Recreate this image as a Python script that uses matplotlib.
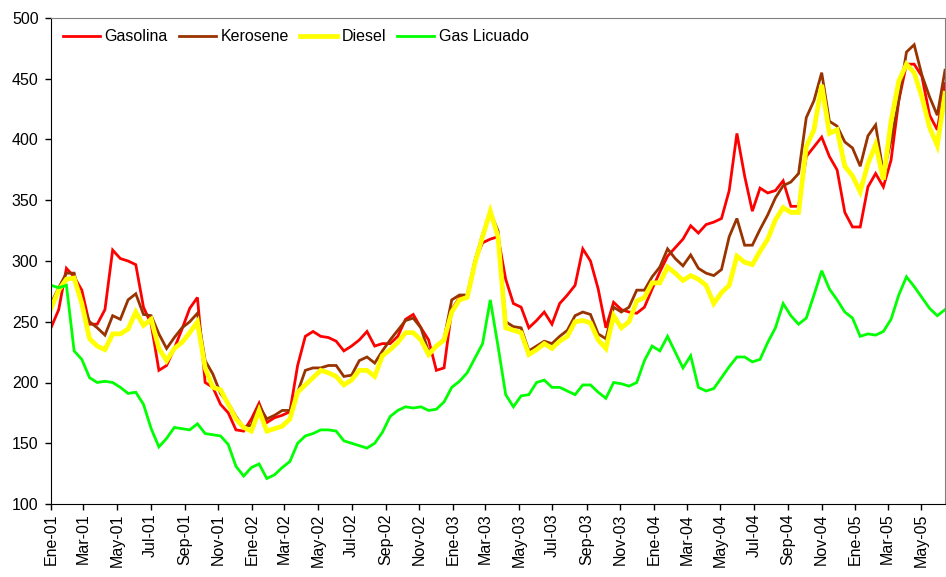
import numpy as np
import pandas as pd
import matplotlib
matplotlib.use('Agg')
import matplotlib.pyplot as plt
import matplotlib.dates as mdates

# precios cada dos semanas, Ene-01 a Jun-05
fechas = pd.date_range('2001-01-01', periods=117, freq='14D')

gasolina = [245, 260, 294, 287, 276, 248, 248, 260, 309, 302, 300, 297, 262, 248, 210, 214, 228, 244, 261, 270,
            200, 196, 182, 175, 161, 160, 170, 183, 167, 171, 173, 176, 214, 238, 242, 238, 237, 234, 226, 230,
            235, 242, 230, 232, 232, 238, 252, 256, 245, 235, 210, 212, 260, 270, 270, 300, 315, 318, 320, 285,
            265, 262, 245, 251, 258, 248, 265, 272, 280, 310, 300, 277, 245, 266, 260, 258, 257, 262, 277, 291,
            304, 311, 318, 329, 323, 330, 332, 335, 358, 405, 370, 341, 360, 356, 358, 366, 345, 345, 386, 394,
            402, 386, 375, 340, 328, 328, 361, 372, 361, 383, 432, 462, 462, 452, 420, 408, 446]

kerosene = [265, 278, 290, 290, 265, 250, 245, 239, 255, 252, 268, 273, 256, 255, 240, 228, 237, 245, 250, 257,
            218, 207, 191, 183, 172, 163, 165, 181, 170, 173, 177, 177, 192, 210, 212, 212, 214, 214, 205, 206,
            218, 221, 216, 226, 235, 243, 251, 253, 245, 225, 230, 236, 268, 272, 272, 300, 322, 340, 325, 250,
            246, 245, 226, 230, 234, 232, 238, 243, 255, 258, 256, 240, 236, 262, 258, 262, 276, 276, 287, 295,
            310, 302, 296, 305, 294, 290, 288, 293, 320, 335, 313, 313, 326, 338, 352, 362, 365, 372, 418, 432,
            455, 415, 411, 398, 393, 378, 403, 412, 372, 399, 432, 472, 478, 453, 435, 420, 457]

diesel = [261, 276, 285, 286, 265, 236, 230, 227, 240, 240, 244, 258, 247, 252, 228, 218, 228, 233, 241, 250,
          212, 196, 194, 182, 170, 163, 160, 177, 160, 162, 164, 170, 192, 198, 204, 210, 208, 205, 198, 202,
          210, 210, 205, 222, 227, 233, 241, 241, 235, 223, 230, 235, 258, 268, 270, 298, 320, 341, 320, 245,
          243, 241, 223, 227, 232, 228, 234, 238, 250, 251, 249, 235, 228, 255, 245, 250, 267, 270, 282, 282,
          295, 290, 284, 288, 285, 280, 265, 274, 280, 304, 299, 297, 308, 318, 334, 344, 340, 340, 394, 408,
          445, 405, 408, 378, 370, 357, 380, 396, 367, 415, 448, 462, 455, 435, 410, 395, 438]

gas_licuado = [280, 278, 280, 226, 219, 204, 200, 201, 200, 196, 191, 192, 182, 162, 147, 154, 163, 162, 161, 166,
               158, 157, 156, 149, 131, 123, 130, 133, 121, 124, 130, 135, 150, 156, 158, 161, 161, 160, 152, 150,
               148, 146, 150, 159, 172, 177, 180, 179, 180, 177, 178, 184, 196, 201, 208, 220, 232, 268, 230, 190,
               180, 189, 190, 200, 202, 196, 196, 193, 190, 198, 198, 192, 187, 200, 199, 197, 200, 218, 230, 226,
               238, 225, 212, 222, 196, 193, 195, 204, 213, 221, 221, 217, 219, 233, 245, 265, 255, 248, 253, 272,
               292, 277, 268, 258, 253, 238, 240, 239, 242, 252, 272, 287, 279, 270, 261, 255, 260]

series = ['Gasolina', 'Kerosene', 'Diesel', 'Gas Licuado']
colores = ['#FF0000', '#993300', '#FFFF00', '#00FF00']
grosor = [2.0, 2.0, 3.4, 2.0]
meses = ['Ene', 'Feb', 'Mar', 'Abr', 'May', 'Jun', 'Jul', 'Ago', 'Sep', 'Oct', 'Nov', 'Dic']

plt.rcParams['font.family'] = ['Liberation Sans', 'DejaVu Sans']

fig = plt.figure(figsize=(9.46, 5.77), dpi=100)
ax = fig.add_axes([51 / 946, 1 - 504 / 577, 894 / 946, 486 / 577])

for nombre, datos, c, lw in zip(series, [gasolina, kerosene, diesel, gas_licuado], colores, grosor):
    ax.plot(fechas, datos, color=c, linewidth=lw, label=nombre, solid_joinstyle='miter')

ax.set_ylim(100, 500)
ax.set_yticks(np.arange(100, 501, 50))
ax.set_xlim(fechas[0], fechas[-1])

ticks = pd.date_range('2001-01-01', '2005-05-01', freq='2MS')
ax.set_xticks(ticks)
ax.set_xticklabels([meses[t.month - 1] + '-' + t.strftime('%y') for t in ticks], rotation=90)

ax.tick_params(axis='both', direction='out', length=4, width=1, colors='black', labelsize=11.5)
ax.tick_params(axis='y', pad=5)
ax.tick_params(axis='x', pad=3)

for s in ['top', 'right']:
    ax.spines[s].set_color('#808080')
for s in ['left', 'bottom']:
    ax.spines[s].set_color('black')

ax.legend(loc='upper left', bbox_to_anchor=(0.0134, 0.977), ncol=4, frameon=False, fontsize=11.5,
          handlelength=2.3, handletextpad=0.3, columnspacing=0.7, borderpad=0, borderaxespad=0)

fig.savefig('out.png', dpi=100)
